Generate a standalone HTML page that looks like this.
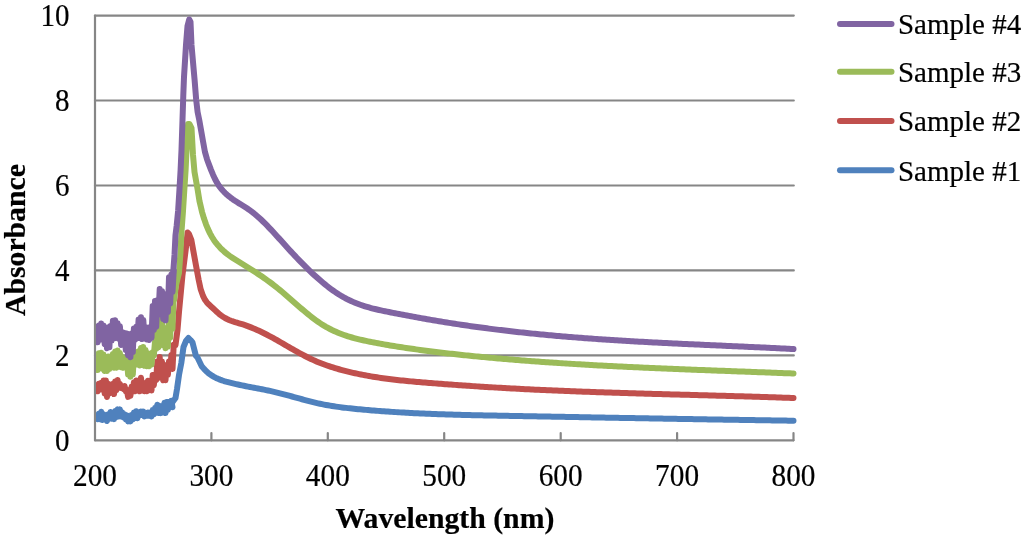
<!DOCTYPE html>
<html><head><meta charset="utf-8"><style>
html,body{margin:0;padding:0;background:#fff;}
svg{display:block;will-change:transform;}
text{font-family:"Liberation Serif",serif;}
.tx text{stroke:#000;stroke-width:0.2px;paint-order:stroke;}
</style></head><body>
<svg width="1024" height="536" viewBox="0 0 1024 536">
<rect width="1024" height="536" fill="#fff"/>
<g stroke="#868686" stroke-width="2.2" fill="none" stroke-linecap="round">
<line x1="95.0" y1="355.4" x2="793.8" y2="355.4"/>
<line x1="95.0" y1="270.4" x2="793.8" y2="270.4"/>
<line x1="95.0" y1="185.5" x2="793.8" y2="185.5"/>
<line x1="95.0" y1="100.5" x2="793.8" y2="100.5"/>
<line x1="95.0" y1="15.6" x2="793.8" y2="15.6"/>
<line x1="95.0" y1="15.6" x2="95.0" y2="440.3"/>
<line x1="95.0" y1="440.3" x2="793.5" y2="440.3"/>
<line x1="211.4" y1="433.0" x2="211.4" y2="440.3"/>
<line x1="327.8" y1="433.0" x2="327.8" y2="440.3"/>
<line x1="444.2" y1="433.0" x2="444.2" y2="440.3"/>
<line x1="560.7" y1="433.0" x2="560.7" y2="440.3"/>
<line x1="677.1" y1="433.0" x2="677.1" y2="440.3"/>
<line x1="793.5" y1="433.0" x2="793.5" y2="440.3"/>
</g>
<defs><clipPath id="pc"><rect x="96" y="0" width="720" height="440"/></clipPath></defs>
<g fill="none" stroke-width="6" stroke-linecap="round" stroke-linejoin="round" clip-path="url(#pc)">
<path stroke="#4F81BD" d="M171.50,403.52 L175.50,398.00 L177.00,389.00 L179.00,375.00 L181.30,363.00 L183.50,347.00 L186.00,341.00 L188.50,338.00 L190.50,340.00 L192.50,342.40 L195.90,355.80 L197.50,357.50 L198.70,360.00 L201.70,366.20 L204.00,368.89 L206.00,371.02 L208.00,372.78 L210.00,374.31 L212.00,375.66 L214.00,376.86 L216.00,377.91 L218.00,378.84 L220.00,379.65 L222.00,380.37 L224.00,381.02 L226.00,381.61 L228.00,382.15 L230.00,382.67 L232.00,383.16 L234.00,383.64 L236.00,384.10 L238.00,384.54 L240.00,384.97 L242.00,385.39 L244.00,385.80 L246.00,386.19 L248.00,386.59 L250.00,386.97 L252.00,387.36 L254.00,387.74 L256.00,388.12 L258.00,388.50 L260.00,388.89 L262.00,389.28 L264.00,389.68 L266.00,390.08 L268.00,390.50 L270.00,390.93 L272.00,391.37 L274.00,391.83 L276.00,392.31 L278.00,392.80 L280.00,393.30 L282.00,393.81 L284.00,394.34 L286.00,394.87 L288.00,395.41 L290.00,395.96 L292.00,396.50 L294.00,397.06 L296.00,397.61 L298.00,398.16 L300.00,398.71 L302.00,399.26 L304.00,399.80 L306.00,400.33 L308.00,400.85 L310.00,401.37 L312.00,401.87 L314.00,402.36 L316.00,402.84 L318.00,403.30 L320.00,403.74 L322.00,404.17 L324.00,404.57 L326.00,404.95 L328.00,405.31 L330.00,405.66 L332.00,405.99 L334.00,406.30 L336.00,406.60 L338.00,406.88 L340.00,407.15 L342.00,407.41 L344.00,407.65 L346.00,407.89 L348.00,408.11 L350.00,408.33 L352.00,408.54 L354.00,408.75 L356.00,408.95 L358.00,409.14 L360.00,409.33 L362.00,409.52 L364.00,409.70 L366.00,409.88 L368.00,410.06 L370.00,410.23 L372.00,410.40 L374.00,410.56 L376.00,410.72 L378.00,410.88 L380.00,411.03 L382.00,411.18 L384.00,411.33 L386.00,411.47 L388.00,411.61 L390.00,411.74 L392.00,411.88 L394.00,412.01 L396.00,412.13 L398.00,412.25 L400.00,412.37 L402.00,412.49 L404.00,412.61 L406.00,412.72 L408.00,412.83 L410.00,412.93 L412.00,413.03 L414.00,413.13 L416.00,413.23 L418.00,413.33 L420.00,413.42 L422.00,413.51 L424.00,413.60 L426.00,413.68 L428.00,413.77 L430.00,413.85 L432.00,413.93 L434.00,414.00 L436.00,414.08 L438.00,414.15 L440.00,414.22 L442.00,414.29 L444.00,414.36 L446.00,414.42 L448.00,414.48 L450.00,414.55 L452.00,414.61 L454.00,414.66 L456.00,414.72 L458.00,414.78 L460.00,414.83 L462.00,414.88 L464.00,414.93 L466.00,414.98 L468.00,415.03 L470.00,415.08 L472.00,415.13 L474.00,415.17 L476.00,415.22 L478.00,415.26 L480.00,415.30 L482.00,415.35 L484.00,415.39 L486.00,415.43 L488.00,415.47 L490.00,415.51 L492.00,415.55 L494.00,415.59 L496.00,415.62 L498.00,415.66 L500.00,415.70 L502.00,415.74 L504.00,415.77 L506.00,415.81 L508.00,415.85 L510.00,415.88 L512.00,415.92 L514.00,415.96 L516.00,415.99 L518.00,416.03 L520.00,416.07 L522.00,416.10 L524.00,416.14 L526.00,416.17 L528.00,416.21 L530.00,416.25 L532.00,416.28 L534.00,416.32 L536.00,416.36 L538.00,416.39 L540.00,416.43 L542.00,416.47 L544.00,416.50 L546.00,416.54 L548.00,416.58 L550.00,416.61 L552.00,416.65 L554.00,416.69 L556.00,416.72 L558.00,416.76 L560.00,416.80 L562.00,416.83 L564.00,416.87 L566.00,416.90 L568.00,416.94 L570.00,416.98 L572.00,417.01 L574.00,417.05 L576.00,417.09 L578.00,417.12 L580.00,417.16 L582.00,417.19 L584.00,417.23 L586.00,417.27 L588.00,417.30 L590.00,417.34 L592.00,417.38 L594.00,417.41 L596.00,417.45 L598.00,417.48 L600.00,417.52 L602.00,417.56 L604.00,417.59 L606.00,417.63 L608.00,417.66 L610.00,417.70 L612.00,417.73 L614.00,417.77 L616.00,417.81 L618.00,417.84 L620.00,417.88 L622.00,417.91 L624.00,417.95 L626.00,417.98 L628.00,418.02 L630.00,418.05 L632.00,418.09 L634.00,418.12 L636.00,418.16 L638.00,418.19 L640.00,418.23 L642.00,418.26 L644.00,418.30 L646.00,418.33 L648.00,418.37 L650.00,418.40 L652.00,418.44 L654.00,418.47 L656.00,418.51 L658.00,418.54 L660.00,418.58 L662.00,418.61 L664.00,418.65 L666.00,418.68 L668.00,418.72 L670.00,418.75 L672.00,418.78 L674.00,418.82 L676.00,418.85 L678.00,418.89 L680.00,418.92 L682.00,418.95 L684.00,418.99 L686.00,419.02 L688.00,419.06 L690.00,419.09 L692.00,419.12 L694.00,419.16 L696.00,419.19 L698.00,419.22 L700.00,419.26 L702.00,419.29 L704.00,419.32 L706.00,419.35 L708.00,419.39 L710.00,419.42 L712.00,419.45 L714.00,419.49 L716.00,419.52 L718.00,419.55 L720.00,419.58 L722.00,419.62 L724.00,419.65 L726.00,419.68 L728.00,419.71 L730.00,419.74 L732.00,419.78 L734.00,419.81 L736.00,419.84 L738.00,419.87 L740.00,419.90 L742.00,419.93 L744.00,419.96 L746.00,420.00 L748.00,420.03 L750.00,420.06 L752.00,420.09 L754.00,420.12 L756.00,420.15 L758.00,420.18 L760.00,420.21 L762.00,420.24 L764.00,420.27 L766.00,420.30 L768.00,420.33 L770.00,420.36 L772.00,420.39 L774.00,420.42 L776.00,420.45 L778.00,420.48 L780.00,420.51 L782.00,420.54 L784.00,420.57 L786.00,420.60 L788.00,420.63 L790.00,420.65 L792.00,420.68 L793.50,420.70"/><polyline stroke="#4F81BD" points="96.5,415.9 97.7,419.1 98.8,413.7 100.0,419.1 101.2,411.7 102.4,420.0 103.5,414.3 104.7,419.4 105.9,416.3 107.0,421.0 108.2,414.3 109.4,418.7 110.5,412.0 111.7,418.7 112.9,414.0 114.1,419.1 115.2,411.0 116.4,417.1 117.6,409.4 118.7,416.5 119.9,409.4 121.1,416.5 122.2,412.4 123.4,417.4 124.6,414.3 125.8,419.4 126.9,415.3 128.1,421.4 129.3,416.9 130.4,421.4 131.6,415.0 132.8,419.4 133.9,412.6 135.1,417.7 136.3,411.3 137.4,418.3 138.6,412.6 139.8,415.0 141.0,411.6 142.1,415.0 143.3,411.6 144.5,416.4 145.6,413.2 146.8,415.7 148.0,412.6 149.1,415.7 150.3,412.6 151.5,416.4 152.7,410.0 153.8,414.4 155.0,408.0 156.2,412.4 157.3,404.7 158.5,413.1 159.7,406.0 160.8,413.1 162.0,406.7 163.2,411.8 164.4,402.8 165.5,413.1 166.7,402.1 167.9,409.8 169.0,402.1 170.2,407.2 171.4,400.8 172.5,407.2"/>
<path stroke="#C0504D" d="M175.50,345.00 L177.50,330.00 L179.00,312.00 L182.40,276.00 L185.80,249.00 L187.60,232.50 L189.00,234.00 L191.40,240.20 L195.90,265.00 L198.60,279.50 L200.60,289.00 L203.00,295.87 L205.00,299.80 L207.00,302.56 L209.00,304.60 L211.00,306.39 L213.00,308.25 L215.00,310.17 L217.00,312.05 L219.00,313.82 L221.00,315.40 L223.00,316.78 L225.00,317.98 L227.00,319.02 L229.00,319.93 L231.00,320.72 L233.00,321.43 L235.00,322.08 L237.00,322.68 L239.00,323.27 L241.00,323.86 L243.00,324.48 L245.00,325.14 L247.00,325.84 L249.00,326.58 L251.00,327.36 L253.00,328.17 L255.00,329.01 L257.00,329.89 L259.00,330.80 L261.00,331.74 L263.00,332.72 L265.00,333.72 L267.00,334.75 L269.00,335.80 L271.00,336.88 L273.00,337.98 L275.00,339.09 L277.00,340.22 L279.00,341.36 L281.00,342.51 L283.00,343.66 L285.00,344.82 L287.00,345.98 L289.00,347.14 L291.00,348.29 L293.00,349.43 L295.00,350.57 L297.00,351.69 L299.00,352.80 L301.00,353.89 L303.00,354.96 L305.00,356.00 L307.00,357.02 L309.00,358.01 L311.00,358.97 L313.00,359.89 L315.00,360.78 L317.00,361.64 L319.00,362.46 L321.00,363.26 L323.00,364.03 L325.00,364.76 L327.00,365.48 L329.00,366.16 L331.00,366.83 L333.00,367.46 L335.00,368.08 L337.00,368.68 L339.00,369.25 L341.00,369.81 L343.00,370.35 L345.00,370.87 L347.00,371.37 L349.00,371.86 L351.00,372.34 L353.00,372.80 L355.00,373.25 L357.00,373.68 L359.00,374.10 L361.00,374.51 L363.00,374.90 L365.00,375.29 L367.00,375.65 L369.00,376.01 L371.00,376.36 L373.00,376.69 L375.00,377.02 L377.00,377.33 L379.00,377.63 L381.00,377.93 L383.00,378.21 L385.00,378.48 L387.00,378.75 L389.00,379.01 L391.00,379.26 L393.00,379.50 L395.00,379.73 L397.00,379.96 L399.00,380.18 L401.00,380.40 L403.00,380.60 L405.00,380.81 L407.00,381.00 L409.00,381.19 L411.00,381.38 L413.00,381.56 L415.00,381.74 L417.00,381.92 L419.00,382.09 L421.00,382.26 L423.00,382.42 L425.00,382.59 L427.00,382.75 L429.00,382.91 L431.00,383.07 L433.00,383.22 L435.00,383.38 L437.00,383.53 L439.00,383.69 L441.00,383.84 L443.00,383.99 L445.00,384.14 L447.00,384.29 L449.00,384.44 L451.00,384.58 L453.00,384.73 L455.00,384.87 L457.00,385.02 L459.00,385.16 L461.00,385.30 L463.00,385.44 L465.00,385.58 L467.00,385.71 L469.00,385.85 L471.00,385.98 L473.00,386.12 L475.00,386.25 L477.00,386.38 L479.00,386.51 L481.00,386.64 L483.00,386.76 L485.00,386.89 L487.00,387.01 L489.00,387.14 L491.00,387.26 L493.00,387.38 L495.00,387.50 L497.00,387.62 L499.00,387.73 L501.00,387.85 L503.00,387.96 L505.00,388.08 L507.00,388.19 L509.00,388.30 L511.00,388.41 L513.00,388.51 L515.00,388.62 L517.00,388.73 L519.00,388.83 L521.00,388.94 L523.00,389.04 L525.00,389.14 L527.00,389.24 L529.00,389.34 L531.00,389.44 L533.00,389.53 L535.00,389.63 L537.00,389.72 L539.00,389.82 L541.00,389.91 L543.00,390.00 L545.00,390.09 L547.00,390.18 L549.00,390.27 L551.00,390.36 L553.00,390.44 L555.00,390.53 L557.00,390.61 L559.00,390.70 L561.00,390.78 L563.00,390.86 L565.00,390.94 L567.00,391.02 L569.00,391.10 L571.00,391.18 L573.00,391.26 L575.00,391.34 L577.00,391.42 L579.00,391.49 L581.00,391.57 L583.00,391.64 L585.00,391.71 L587.00,391.79 L589.00,391.86 L591.00,391.93 L593.00,392.00 L595.00,392.07 L597.00,392.14 L599.00,392.21 L601.00,392.28 L603.00,392.34 L605.00,392.41 L607.00,392.48 L609.00,392.54 L611.00,392.61 L613.00,392.67 L615.00,392.74 L617.00,392.80 L619.00,392.86 L621.00,392.93 L623.00,392.99 L625.00,393.05 L627.00,393.11 L629.00,393.17 L631.00,393.23 L633.00,393.29 L635.00,393.35 L637.00,393.41 L639.00,393.47 L641.00,393.53 L643.00,393.59 L645.00,393.65 L647.00,393.71 L649.00,393.76 L651.00,393.82 L653.00,393.88 L655.00,393.93 L657.00,393.99 L659.00,394.05 L661.00,394.10 L663.00,394.16 L665.00,394.21 L667.00,394.27 L669.00,394.32 L671.00,394.38 L673.00,394.43 L675.00,394.49 L677.00,394.54 L679.00,394.60 L681.00,394.65 L683.00,394.70 L685.00,394.76 L687.00,394.81 L689.00,394.87 L691.00,394.92 L693.00,394.98 L695.00,395.03 L697.00,395.08 L699.00,395.14 L701.00,395.19 L703.00,395.25 L705.00,395.30 L707.00,395.36 L709.00,395.41 L711.00,395.47 L713.00,395.52 L715.00,395.58 L717.00,395.63 L719.00,395.69 L721.00,395.74 L723.00,395.80 L725.00,395.85 L727.00,395.91 L729.00,395.97 L731.00,396.02 L733.00,396.08 L735.00,396.14 L737.00,396.20 L739.00,396.25 L741.00,396.31 L743.00,396.37 L745.00,396.43 L747.00,396.49 L749.00,396.55 L751.00,396.61 L753.00,396.67 L755.00,396.73 L757.00,396.79 L759.00,396.85 L761.00,396.91 L763.00,396.98 L765.00,397.04 L767.00,397.10 L769.00,397.17 L771.00,397.23 L773.00,397.30 L775.00,397.36 L777.00,397.43 L779.00,397.49 L781.00,397.56 L783.00,397.63 L785.00,397.70 L787.00,397.77 L789.00,397.84 L791.00,397.91 L793.00,397.98 L793.50,398.00"/><polyline stroke="#C0504D" points="96.5,386.1 97.7,391.3 98.8,383.8 100.0,389.6 101.2,382.7 102.4,389.6 103.5,380.5 104.7,393.5 105.9,380.5 107.0,396.9 108.2,383.8 109.4,393.5 110.5,385.5 111.7,392.4 112.9,383.8 114.1,394.1 115.2,381.6 116.4,390.2 117.6,379.9 118.7,387.9 119.9,383.8 121.1,387.9 122.2,386.6 123.4,389.0 124.6,386.1 125.8,391.3 126.9,390.0 128.1,396.9 129.3,390.0 130.4,395.8 131.6,386.6 132.8,391.3 133.9,382.2 135.1,391.3 136.3,380.5 137.4,389.0 138.6,380.5 139.8,391.3 141.0,377.7 142.1,389.0 143.3,382.9 144.5,391.3 145.6,382.9 146.8,391.3 148.0,380.7 149.1,390.2 150.3,380.7 151.5,390.5 152.7,375.1 153.8,385.3 155.0,375.1 156.2,380.0 157.3,361.6 158.5,378.0 159.7,357.1 160.8,375.8 162.0,361.6 163.2,380.3 164.4,371.7 165.5,380.3 166.7,365.0 167.9,374.7 169.0,361.6 170.2,369.1 171.4,354.9 172.5,369.1 173.7,344.8"/>
<path stroke="#9BBB59" d="M174.00,300.00 L176.00,285.00 L179.00,272.70 L180.50,252.10 L181.50,231.60 L183.00,211.00 L184.30,190.00 L185.60,170.00 L186.30,155.00 L188.10,124.00 L189.50,124.00 L191.50,128.00 L193.00,155.00 L194.50,172.00 L197.70,190.00 L199.50,201.20 L200.00,203.27 L202.00,211.80 L204.00,218.60 L206.00,224.27 L208.00,229.15 L210.00,233.37 L212.00,237.01 L214.00,240.16 L216.00,242.91 L218.00,245.35 L220.00,247.55 L222.00,249.56 L224.00,251.41 L226.00,253.10 L228.00,254.67 L230.00,256.12 L232.00,257.49 L234.00,258.80 L236.00,260.05 L238.00,261.28 L240.00,262.51 L242.00,263.73 L244.00,264.96 L246.00,266.20 L248.00,267.45 L250.00,268.70 L252.00,269.97 L254.00,271.26 L256.00,272.56 L258.00,273.87 L260.00,275.21 L262.00,276.57 L264.00,277.96 L266.00,279.37 L268.00,280.81 L270.00,282.27 L272.00,283.77 L274.00,285.31 L276.00,286.88 L278.00,288.49 L280.00,290.13 L282.00,291.80 L284.00,293.49 L286.00,295.21 L288.00,296.94 L290.00,298.68 L292.00,300.43 L294.00,302.18 L296.00,303.93 L298.00,305.67 L300.00,307.40 L302.00,309.12 L304.00,310.81 L306.00,312.48 L308.00,314.12 L310.00,315.73 L312.00,317.30 L314.00,318.83 L316.00,320.30 L318.00,321.73 L320.00,323.10 L322.00,324.41 L324.00,325.66 L326.00,326.84 L328.00,327.95 L330.00,329.01 L332.00,330.02 L334.00,330.96 L336.00,331.86 L338.00,332.71 L340.00,333.51 L342.00,334.27 L344.00,334.99 L346.00,335.67 L348.00,336.31 L350.00,336.92 L352.00,337.49 L354.00,338.04 L356.00,338.57 L358.00,339.07 L360.00,339.55 L362.00,340.01 L364.00,340.45 L366.00,340.88 L368.00,341.31 L370.00,341.72 L372.00,342.12 L374.00,342.52 L376.00,342.91 L378.00,343.29 L380.00,343.66 L382.00,344.02 L384.00,344.38 L386.00,344.73 L388.00,345.08 L390.00,345.42 L392.00,345.75 L394.00,346.08 L396.00,346.40 L398.00,346.71 L400.00,347.02 L402.00,347.33 L404.00,347.63 L406.00,347.93 L408.00,348.22 L410.00,348.51 L412.00,348.80 L414.00,349.08 L416.00,349.36 L418.00,349.63 L420.00,349.91 L422.00,350.18 L424.00,350.44 L426.00,350.70 L428.00,350.96 L430.00,351.22 L432.00,351.47 L434.00,351.72 L436.00,351.97 L438.00,352.22 L440.00,352.46 L442.00,352.70 L444.00,352.93 L446.00,353.17 L448.00,353.40 L450.00,353.62 L452.00,353.85 L454.00,354.07 L456.00,354.29 L458.00,354.51 L460.00,354.73 L462.00,354.94 L464.00,355.15 L466.00,355.36 L468.00,355.56 L470.00,355.77 L472.00,355.97 L474.00,356.17 L476.00,356.37 L478.00,356.56 L480.00,356.75 L482.00,356.95 L484.00,357.13 L486.00,357.32 L488.00,357.51 L490.00,357.69 L492.00,357.87 L494.00,358.05 L496.00,358.23 L498.00,358.41 L500.00,358.58 L502.00,358.76 L504.00,358.93 L506.00,359.10 L508.00,359.27 L510.00,359.43 L512.00,359.60 L514.00,359.76 L516.00,359.93 L518.00,360.09 L520.00,360.24 L522.00,360.40 L524.00,360.56 L526.00,360.71 L528.00,360.87 L530.00,361.02 L532.00,361.17 L534.00,361.31 L536.00,361.46 L538.00,361.61 L540.00,361.75 L542.00,361.89 L544.00,362.04 L546.00,362.18 L548.00,362.31 L550.00,362.45 L552.00,362.59 L554.00,362.72 L556.00,362.85 L558.00,362.99 L560.00,363.12 L562.00,363.25 L564.00,363.38 L566.00,363.50 L568.00,363.63 L570.00,363.75 L572.00,363.88 L574.00,364.00 L576.00,364.12 L578.00,364.24 L580.00,364.36 L582.00,364.48 L584.00,364.59 L586.00,364.71 L588.00,364.82 L590.00,364.94 L592.00,365.05 L594.00,365.16 L596.00,365.27 L598.00,365.38 L600.00,365.49 L602.00,365.59 L604.00,365.70 L606.00,365.81 L608.00,365.91 L610.00,366.01 L612.00,366.12 L614.00,366.22 L616.00,366.32 L618.00,366.42 L620.00,366.52 L622.00,366.62 L624.00,366.71 L626.00,366.81 L628.00,366.91 L630.00,367.00 L632.00,367.10 L634.00,367.19 L636.00,367.28 L638.00,367.37 L640.00,367.47 L642.00,367.56 L644.00,367.65 L646.00,367.74 L648.00,367.83 L650.00,367.91 L652.00,368.00 L654.00,368.09 L656.00,368.17 L658.00,368.26 L660.00,368.35 L662.00,368.43 L664.00,368.51 L666.00,368.60 L668.00,368.68 L670.00,368.76 L672.00,368.85 L674.00,368.93 L676.00,369.01 L678.00,369.09 L680.00,369.17 L682.00,369.25 L684.00,369.33 L686.00,369.41 L688.00,369.49 L690.00,369.57 L692.00,369.64 L694.00,369.72 L696.00,369.80 L698.00,369.88 L700.00,369.95 L702.00,370.03 L704.00,370.11 L706.00,370.18 L708.00,370.26 L710.00,370.33 L712.00,370.41 L714.00,370.49 L716.00,370.56 L718.00,370.64 L720.00,370.71 L722.00,370.79 L724.00,370.86 L726.00,370.94 L728.00,371.01 L730.00,371.08 L732.00,371.16 L734.00,371.23 L736.00,371.31 L738.00,371.38 L740.00,371.46 L742.00,371.53 L744.00,371.61 L746.00,371.68 L748.00,371.76 L750.00,371.83 L752.00,371.90 L754.00,371.98 L756.00,372.05 L758.00,372.13 L760.00,372.20 L762.00,372.28 L764.00,372.36 L766.00,372.43 L768.00,372.51 L770.00,372.58 L772.00,372.66 L774.00,372.74 L776.00,372.81 L778.00,372.89 L780.00,372.97 L782.00,373.05 L784.00,373.13 L786.00,373.20 L788.00,373.28 L790.00,373.36 L792.00,373.44 L793.50,373.50"/><polyline stroke="#9BBB59" points="96.5,354.5 97.7,370.0 98.8,353.3 100.0,367.2 101.2,352.8 102.4,368.9 103.5,354.6 104.7,371.1 105.9,356.7 107.0,371.1 108.2,356.5 109.4,368.9 110.5,356.5 111.7,367.2 112.9,354.0 114.1,367.8 115.2,351.4 116.4,367.8 117.6,350.4 118.7,365.5 119.9,353.0 121.1,367.2 122.2,357.0 123.4,367.8 124.6,358.5 125.8,367.8 126.9,360.0 128.1,374.5 129.3,361.3 130.4,376.7 131.6,361.3 132.8,374.5 133.9,357.0 135.1,364.4 136.3,352.2 137.4,364.4 138.6,351.2 139.8,365.5 141.0,348.1 142.1,365.0 143.3,347.1 144.5,365.7 145.6,350.1 146.8,366.3 148.0,353.2 149.1,366.3 150.3,353.7 151.5,364.6 152.7,352.2 153.8,355.6 155.0,341.9 156.2,348.9 157.3,326.6 158.5,347.2 159.7,319.5 160.8,343.0 162.0,323.5 163.2,345.0 164.4,337.0 165.5,348.3 166.7,328.0 167.9,346.6 169.0,313.7 170.2,337.7 171.4,301.0 172.5,328.7 173.7,291.2"/>
<path stroke="#8064A2" d="M173.00,275.00 L174.50,255.00 L175.50,235.00 L176.70,225.40 L178.10,211.00 L179.40,190.50 L180.60,170.00 L181.50,150.00 L182.50,120.00 L183.30,95.00 L184.00,77.00 L186.00,45.00 L187.50,26.00 L189.20,19.50 L190.50,22.00 L191.50,45.00 L193.00,62.00 L194.60,80.00 L196.20,100.00 L197.60,112.00 L199.25,120.00 L201.20,131.00 L203.00,141.32 L205.00,152.20 L207.00,159.19 L209.00,164.61 L211.00,169.81 L213.00,174.65 L215.00,179.00 L217.00,182.73 L219.00,185.84 L221.00,188.48 L223.00,190.76 L225.00,192.82 L227.00,194.69 L229.00,196.40 L231.00,197.97 L233.00,199.43 L235.00,200.80 L237.00,202.09 L239.00,203.34 L241.00,204.56 L243.00,205.78 L245.00,207.02 L247.00,208.30 L249.00,209.65 L251.00,211.08 L253.00,212.61 L255.00,214.23 L257.00,215.94 L259.00,217.72 L261.00,219.57 L263.00,221.48 L265.00,223.45 L267.00,225.48 L269.00,227.55 L271.00,229.66 L273.00,231.80 L275.00,233.98 L277.00,236.17 L279.00,238.38 L281.00,240.60 L283.00,242.82 L285.00,245.04 L287.00,247.25 L289.00,249.44 L291.00,251.62 L293.00,253.78 L295.00,255.92 L297.00,258.03 L299.00,260.12 L301.00,262.19 L303.00,264.22 L305.00,266.23 L307.00,268.21 L309.00,270.16 L311.00,272.07 L313.00,273.95 L315.00,275.80 L317.00,277.60 L319.00,279.37 L321.00,281.09 L323.00,282.77 L325.00,284.41 L327.00,286.00 L329.00,287.54 L331.00,289.04 L333.00,290.48 L335.00,291.87 L337.00,293.21 L339.00,294.50 L341.00,295.72 L343.00,296.89 L345.00,298.00 L347.00,299.05 L349.00,300.05 L351.00,300.99 L353.00,301.88 L355.00,302.72 L357.00,303.52 L359.00,304.27 L361.00,304.98 L363.00,305.66 L365.00,306.29 L367.00,306.90 L369.00,307.47 L371.00,308.02 L373.00,308.54 L375.00,309.03 L377.00,309.51 L379.00,309.97 L381.00,310.41 L383.00,310.83 L385.00,311.25 L387.00,311.66 L389.00,312.06 L391.00,312.45 L393.00,312.85 L395.00,313.24 L397.00,313.63 L399.00,314.02 L401.00,314.40 L403.00,314.78 L405.00,315.16 L407.00,315.54 L409.00,315.91 L411.00,316.29 L413.00,316.66 L415.00,317.02 L417.00,317.39 L419.00,317.75 L421.00,318.11 L423.00,318.46 L425.00,318.82 L427.00,319.17 L429.00,319.51 L431.00,319.86 L433.00,320.20 L435.00,320.54 L437.00,320.88 L439.00,321.21 L441.00,321.54 L443.00,321.87 L445.00,322.20 L447.00,322.52 L449.00,322.84 L451.00,323.16 L453.00,323.47 L455.00,323.78 L457.00,324.09 L459.00,324.39 L461.00,324.69 L463.00,324.99 L465.00,325.29 L467.00,325.58 L469.00,325.87 L471.00,326.16 L473.00,326.44 L475.00,326.72 L477.00,327.00 L479.00,327.27 L481.00,327.54 L483.00,327.81 L485.00,328.08 L487.00,328.34 L489.00,328.60 L491.00,328.86 L493.00,329.11 L495.00,329.36 L497.00,329.61 L499.00,329.86 L501.00,330.10 L503.00,330.34 L505.00,330.58 L507.00,330.81 L509.00,331.04 L511.00,331.27 L513.00,331.50 L515.00,331.73 L517.00,331.95 L519.00,332.17 L521.00,332.38 L523.00,332.60 L525.00,332.81 L527.00,333.02 L529.00,333.23 L531.00,333.43 L533.00,333.63 L535.00,333.83 L537.00,334.03 L539.00,334.23 L541.00,334.42 L543.00,334.61 L545.00,334.80 L547.00,334.99 L549.00,335.17 L551.00,335.35 L553.00,335.53 L555.00,335.71 L557.00,335.89 L559.00,336.06 L561.00,336.23 L563.00,336.40 L565.00,336.57 L567.00,336.74 L569.00,336.90 L571.00,337.06 L573.00,337.22 L575.00,337.38 L577.00,337.54 L579.00,337.69 L581.00,337.85 L583.00,338.00 L585.00,338.15 L587.00,338.30 L589.00,338.44 L591.00,338.59 L593.00,338.73 L595.00,338.87 L597.00,339.01 L599.00,339.15 L601.00,339.29 L603.00,339.42 L605.00,339.56 L607.00,339.69 L609.00,339.82 L611.00,339.95 L613.00,340.08 L615.00,340.20 L617.00,340.33 L619.00,340.45 L621.00,340.58 L623.00,340.70 L625.00,340.82 L627.00,340.94 L629.00,341.05 L631.00,341.17 L633.00,341.29 L635.00,341.40 L637.00,341.52 L639.00,341.63 L641.00,341.74 L643.00,341.85 L645.00,341.96 L647.00,342.07 L649.00,342.17 L651.00,342.28 L653.00,342.39 L655.00,342.49 L657.00,342.60 L659.00,342.70 L661.00,342.80 L663.00,342.90 L665.00,343.00 L667.00,343.10 L669.00,343.20 L671.00,343.30 L673.00,343.40 L675.00,343.50 L677.00,343.59 L679.00,343.69 L681.00,343.78 L683.00,343.88 L685.00,343.97 L687.00,344.07 L689.00,344.16 L691.00,344.26 L693.00,344.35 L695.00,344.44 L697.00,344.53 L699.00,344.62 L701.00,344.72 L703.00,344.81 L705.00,344.90 L707.00,344.99 L709.00,345.08 L711.00,345.17 L713.00,345.26 L715.00,345.35 L717.00,345.44 L719.00,345.53 L721.00,345.62 L723.00,345.71 L725.00,345.80 L727.00,345.89 L729.00,345.98 L731.00,346.07 L733.00,346.16 L735.00,346.24 L737.00,346.33 L739.00,346.42 L741.00,346.51 L743.00,346.61 L745.00,346.70 L747.00,346.79 L749.00,346.88 L751.00,346.97 L753.00,347.06 L755.00,347.15 L757.00,347.25 L759.00,347.34 L761.00,347.43 L763.00,347.53 L765.00,347.62 L767.00,347.71 L769.00,347.81 L771.00,347.91 L773.00,348.00 L775.00,348.10 L777.00,348.20 L779.00,348.29 L781.00,348.39 L783.00,348.49 L785.00,348.59 L787.00,348.69 L789.00,348.80 L791.00,348.90 L793.00,349.00 L793.50,349.03"/><polyline stroke="#8064A2" points="96.5,328.5 97.7,342.3 98.8,325.6 100.0,336.4 101.2,323.5 102.4,339.8 103.5,325.6 104.7,344.0 105.9,330.2 107.0,348.2 108.2,327.3 109.4,347.3 110.5,326.0 111.7,340.6 112.9,320.7 114.1,338.3 115.2,320.2 116.4,336.7 117.6,323.2 118.7,338.8 119.9,326.3 121.1,344.9 122.2,332.0 123.4,343.9 124.6,333.0 125.8,350.0 126.9,333.5 128.1,355.2 129.3,337.1 130.4,357.2 131.6,333.5 132.8,352.1 133.9,328.4 135.1,339.8 136.3,326.8 137.4,338.0 138.6,319.4 139.8,338.0 141.0,317.3 142.1,339.0 143.3,319.9 144.5,338.0 145.6,327.1 146.8,339.5 148.0,329.6 149.1,340.0 150.3,327.1 151.5,338.0 152.7,306.1 153.8,329.8 155.0,301.0 156.2,326.7 157.3,300.3 158.5,314.7 159.7,289.1 160.8,310.5 162.0,291.2 163.2,318.9 164.4,300.3 165.5,320.3 166.7,294.0 167.9,311.9 169.0,277.2 170.2,303.5 171.4,274.4 172.5,292.2 173.7,271.0"/>
</g>
<g class="tx" font-size="29" fill="#000">
<text transform="translate(69.5,440.40) scale(1,1.09)" y="9.6" text-anchor="end">0</text>
<text transform="translate(69.5,355.46) scale(1,1.09)" y="9.6" text-anchor="end">2</text>
<text transform="translate(69.5,270.52) scale(1,1.09)" y="9.6" text-anchor="end">4</text>
<text transform="translate(69.5,185.58) scale(1,1.09)" y="9.6" text-anchor="end">6</text>
<text transform="translate(69.5,100.64) scale(1,1.09)" y="9.6" text-anchor="end">8</text>
<text transform="translate(69.5,15.70) scale(1,1.09)" y="9.6" text-anchor="end">10</text>
<text transform="translate(95.00,475.4) scale(1.01,1.09)" y="9.6" text-anchor="middle">200</text>
<text transform="translate(211.42,475.4) scale(1.01,1.09)" y="9.6" text-anchor="middle">300</text>
<text transform="translate(327.83,475.4) scale(1.01,1.09)" y="9.6" text-anchor="middle">400</text>
<text transform="translate(444.25,475.4) scale(1.01,1.09)" y="9.6" text-anchor="middle">500</text>
<text transform="translate(560.67,475.4) scale(1.01,1.09)" y="9.6" text-anchor="middle">600</text>
<text transform="translate(677.08,475.4) scale(1.01,1.09)" y="9.6" text-anchor="middle">700</text>
<text transform="translate(793.50,475.4) scale(1.01,1.09)" y="9.6" text-anchor="middle">800</text>
</g>
<g stroke-width="6" stroke-linecap="round" font-size="29">
<line x1="840" y1="23.9" x2="891.5" y2="23.9" stroke="#8064A2"/>
<text transform="translate(898,24.25) scale(1,1.035)" y="9.6" fill="#000" style="stroke:#000;stroke-width:0.2px">Sample #4</text>
<line x1="840" y1="71.7" x2="891.5" y2="71.7" stroke="#9BBB59"/>
<text transform="translate(898,72.05) scale(1,1.035)" y="9.6" fill="#000" style="stroke:#000;stroke-width:0.2px">Sample #3</text>
<line x1="840" y1="120.9" x2="891.5" y2="120.9" stroke="#C0504D"/>
<text transform="translate(898,121.25) scale(1,1.035)" y="9.6" fill="#000" style="stroke:#000;stroke-width:0.2px">Sample #2</text>
<line x1="840" y1="170.3" x2="891.5" y2="170.3" stroke="#4F81BD"/>
<text transform="translate(898,170.65) scale(1,1.035)" y="9.6" fill="#000" style="stroke:#000;stroke-width:0.2px">Sample #1</text>
</g>
<text style="stroke:#000;stroke-width:0.2px" transform="translate(444.9,518.05) scale(1,1.02)" y="9.85" font-size="29.75" font-weight="bold" text-anchor="middle">Wavelength (nm)</text>
<text style="stroke:#000;stroke-width:0.2px" transform="translate(25.2,240.05) rotate(-90)" font-size="29.7" font-weight="bold" text-anchor="middle">Absorbance</text>
</svg>
</body></html>
